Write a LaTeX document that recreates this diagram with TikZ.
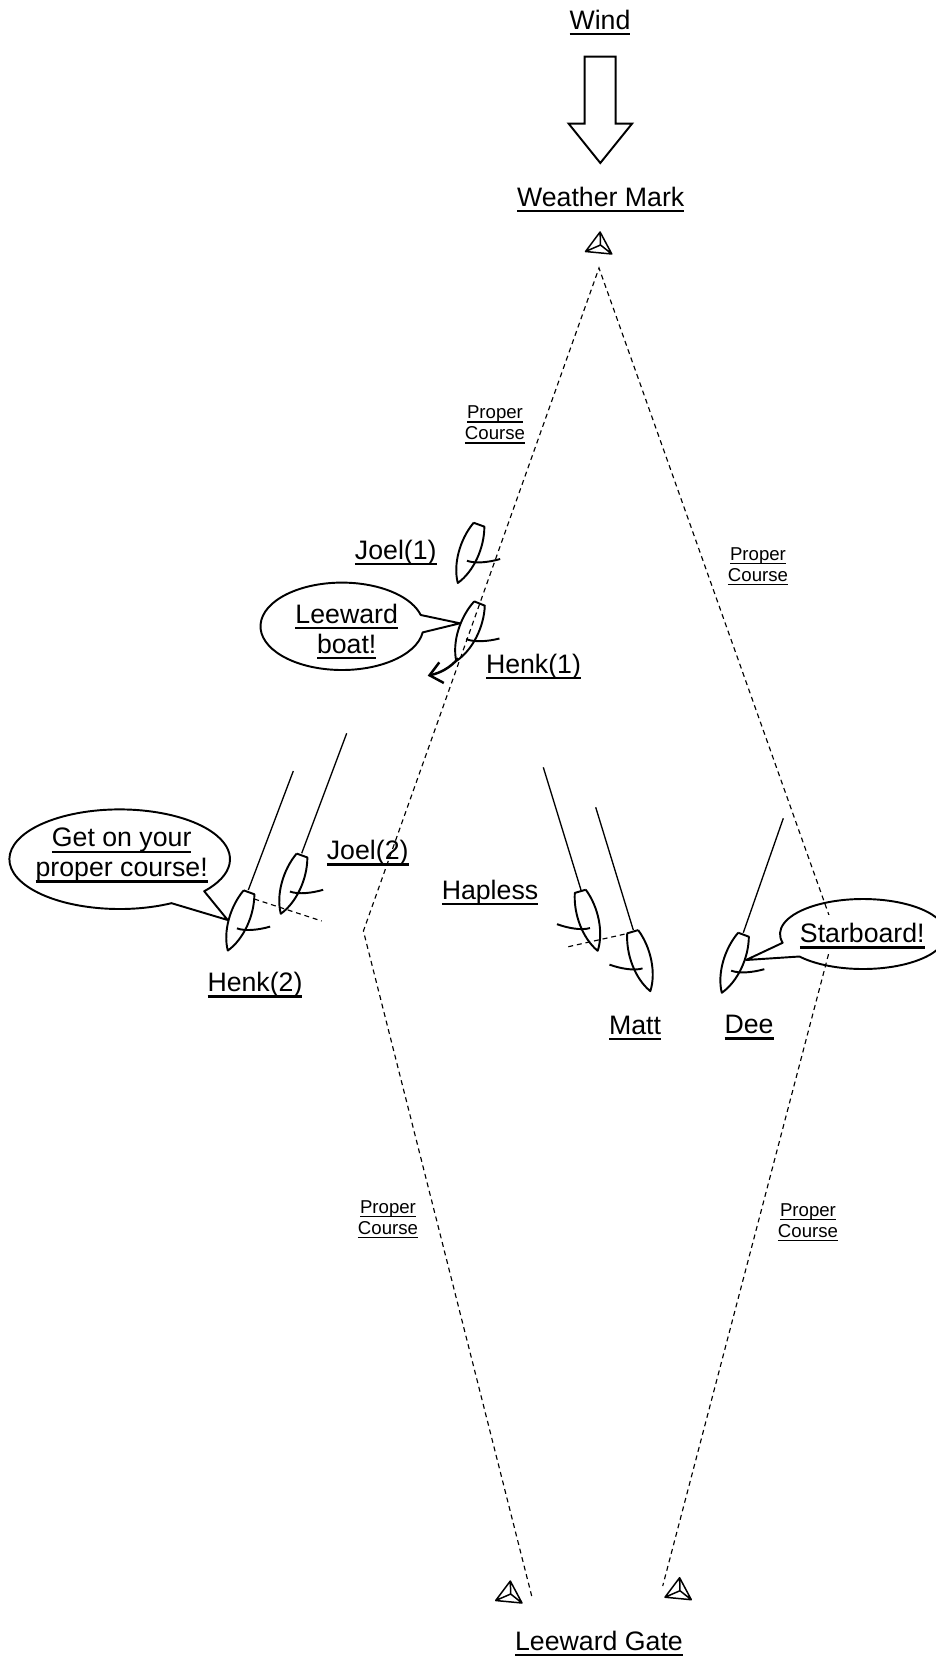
\documentclass[tikz,border=0pt]{standalone}
\usepackage{fontspec}
\setmainfont{Liberation Sans}
\usetikzlibrary{arrows.meta}
\newcommand{\ulbl}[1]{\leavevmode\setbox0\hbox{#1}\dp0=0pt\vtop{\box0\kern.14em\hrule height .085em}}
\tikzset{
  lbl/.style={anchor=base,align=center,inner sep=0pt,font=\fontsize{15.2}{17}\selectfont},
  smalllbl/.style={anchor=base,align=center,inner sep=0pt,font=\fontsize{10.6}{11.8}\selectfont},
  outline/.style={line width=1.1pt},
  course/.style={line width=.65pt,dash pattern=on 2.8pt off 2.2pt},
  overlap/.style={line width=.65pt,dash pattern=on 2.8pt off 2.2pt},
  hull/.pic={
    \draw[outline,line join=round] (-5.7,0) -- (5.7,0)
        .. controls (13,20) and (11,46) .. (0,62)
        .. controls (-11,46) and (-13,20) .. (-5.7,0);
    \draw[outline] (1,38) .. controls (10,38) and (22,32) .. (31.6,25);
  },
  buoy/.pic={
    \draw[line width=.85pt,line join=round] (-.4,-13) -- (11.3,9) -- (-15,6.5) -- cycle
        (-.4,-13) -- (0,0) -- (11.3,9) (0,0) -- (-15,6.5);
  }
}
\begin{document}
\begin{tikzpicture}[x=.02cm,y=-.02cm]
  \useasboundingbox (0,0) rectangle (936,1657);
  %course
  \draw[course] (531.7,1596) -- (363.4,931) -- (599,268) -- (834.6,931) -- (662.7,1586);
  %wind arrow
  \draw[outline,line join=miter] (584.7,56.7) -- (615.7,56.7) -- (615.7,123.7) -- (632,123.7)
        -- (600.3,163) -- (568.7,123.7) -- (584.7,123.7) -- cycle;
  %marks
  \foreach \x/\y in {600.5/245,510.7/1594,680/1590.7}
  \pic at (\x,\y) {buoy};
  %boats, left tack
  \foreach \x/\y/\r in {479/524.7/-20,479.5/603.5/-22,302/855.5/-20,249/892.3/-20,743.5/934.7/-20.5}
  \pic[rotate=\r] at (\x,\y) {hull};
  %boats, right tack
  \foreach \x/\y/\r in {580.3/891.3/16.3,632.7/931.7/16.5}
  \pic[rotate=\r,xscale=-1] at (\x,\y) {hull};
  %lines to the mark
  \draw[line width=.75pt] (248.3,890) -- (293.3,771)
        (301.7,853.3) -- (346.7,733.3)
        (581,890) -- (543.3,767.3)
        (633.3,930) -- (595.7,807.3)
        (743.3,932.7) -- (783.3,818.3);
  \draw[overlap] (254.3,899) -- (321.7,921);
  \draw[overlap] (568.3,946.7) -- (628.3,933.3);
  %luff
  \draw[line width=1.4pt,-{Straight Barb[length=7pt,width=12pt]}] (458.3,658.3) .. controls (450,668) and (440,673) .. (427.7,675.7);
  %bubbles
  \draw[outline,line join=round] (342,626.3) ++(8:81.5 and 43.7)
        arc[start angle=8,end angle=345,x radius=81.5,y radius=43.7] -- (460,623.3) -- cycle;
  \draw[outline,line join=round] (119.7,859.2) ++(62:110.3 and 49.8)
        arc[start angle=62,end angle=400,x radius=110.3,y radius=49.8] -- (227.7,920) -- cycle;
  \draw[outline,line join=round] (863,934) ++(140:83 and 35)
        arc[start angle=140,end angle=-194.5,x radius=83,y radius=35] -- (746,960) -- cycle;
  %labels
  \node[lbl] (wind) at (600,29) {\ulbl{Wind}};
  \node[lbl] (weather) at (600.7,206) {\ulbl{Weather Mark}};
  \node[lbl] (gate) at (599,1650) {\ulbl{Leeward Gate}};
  \node[lbl] (joelone) at (395.8,559.3) {\ulbl{Joel(1)}};
  \node[lbl] (henkone) at (533.5,673) {\ulbl{Henk(1)}};
  \node[lbl] (joeltwo) at (367.7,859.5) {\ulbl{Joel(2)}};
  \node[lbl] (henktwo) at (255,991.7) {\ulbl{Henk(2)}};
  \node[lbl] (hapless) at (490,899) {\ulbl{Hapless}};
  \node[lbl] (matt) at (635,1034) {\ulbl{Matt}};
  \node[lbl] (dee) at (749,1033.7) {\ulbl{Dee}};
  \node[lbl] (leeward) at (346.7,653) {\ulbl{Leeward}\\\ulbl{boat!}};
  \node[lbl] (getonyour) at (121.7,876.7) {\ulbl{Get on your}\\\ulbl{proper course!}};
  \node[lbl,fill=white,text height=.554cm,text depth=.226cm] (starboard) at (862.3,942.5) {\ulbl{Starboard!}};
  \node[smalllbl] (properone) at (495,439.5) {\ulbl{Proper}\\\ulbl{Course}};
  \node[smalllbl] (propertwo) at (758,581) {\ulbl{Proper}\\\ulbl{Course}};
  \node[smalllbl] (properthree) at (388,1234) {\ulbl{Proper}\\\ulbl{Course}};
  \node[smalllbl] (properfour) at (808,1237) {\ulbl{Proper}\\\ulbl{Course}};
\end{tikzpicture}
\end{document}
